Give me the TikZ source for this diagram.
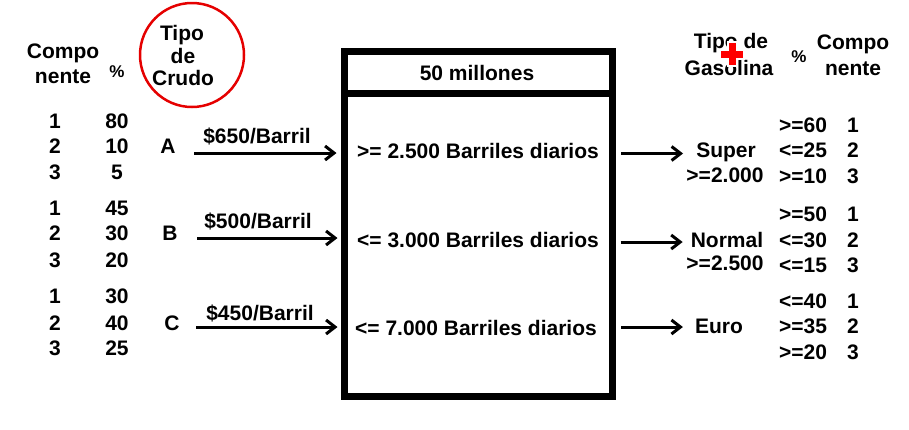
\documentclass[tikz,border=0pt]{standalone}
\usepackage{fontspec}
\setmainfont{Liberation Sans}
\usetikzlibrary{arrows.meta}

\begin{document}
\begin{tikzpicture}[
  x=1pt, y=-1pt,
  txt/.style={font=\bfseries\fontsize{21}{24}\selectfont, inner sep=0pt, anchor=base, text height=15pt, text depth=0pt},
  pct/.style={txt, font=\bfseries\fontsize{17}{19}\selectfont},
  planta/.style={rectangle, draw, line width=7pt, outer sep=0pt, minimum width=268pt, minimum height=345pt},
  flecha/.style={line width=3pt, -{Straight Barb[length=9pt,width=14pt]}},
  marca/.style={draw=red!90!black, line width=2.5pt}]
    \useasboundingbox (0,0) rectangle (909,429);
    % Headers left
    \node[txt] (compoL) at (63,58) {Compo};
    \node[txt] (nenteL) at (63,83) {nente};
    \node[pct] (pctL) at (117,77) {\%};
    \node[txt] (tipoL) at (182,40) {Tipo};
    \node[txt] (deL) at (183,63) {de};
    \node[txt] (crudoL) at (183,85) {Crudo};
    \draw[marca] (192,55) ellipse [x radius=52pt, y radius=52pt];
    % Crude A
    \node[txt] (cA1) at (55,128) {1};  \node[txt] (pA1) at (117,128) {80};
    \node[txt] (cA2) at (55,153) {2};  \node[txt] (pA2) at (117,153) {10};
    \node[txt] (cA3) at (55,179) {3};  \node[txt] (pA3) at (117,179) {5};
    % Crude B
    \node[txt] (cB1) at (55,215) {1};  \node[txt] (pB1) at (117,215) {45};
    \node[txt] (cB2) at (55,240) {2};  \node[txt] (pB2) at (117,240) {30};
    \node[txt] (cB3) at (55,267) {3};  \node[txt] (pB3) at (117,267) {20};
    % Crude C
    \node[txt] (cC1) at (55,303) {1};  \node[txt] (pC1) at (117,303) {30};
    \node[txt] (cC2) at (55,330) {2};  \node[txt] (pC2) at (117,330) {40};
    \node[txt] (cC3) at (55,355) {3};  \node[txt] (pC3) at (117,355) {25};
    \node[txt] (crudoA) at (168,153) {A};
    \node[txt] (crudoB) at (170,240) {B};
    \node[txt] (crudoC) at (172,330) {C};
    % Refinery
    \node (box) [planta] at (478.5,224) {};
    \coordinate (corte) at (478.5,93);
    \draw[line width=7pt] (box.west |- corte) -- (box.east |- corte);
    \node[txt] (costo) at (477,80) {50 millones};
    \node[txt] (bA) at (478,158) {>= 2.500 Barriles diarios};
    \node[txt] (bB) at (478,247) {<= 3.000 Barriles diarios};
    \node[txt] (bC) at (476,335) {<= 7.000 Barriles diarios};
    % Inputs
    \coordinate (inA) at (194,153);
    \coordinate (inB) at (197,238);
    \coordinate (inC) at (196,327);
    \draw[flecha, shorten >=8pt] (inA) -- (inA -| box.west);
    \draw[flecha, shorten >=7pt] (inB) -- (inB -| box.west);
    \draw[flecha, shorten >=7pt] (inC) -- (inC -| box.west);
    \node[txt] (precioA) at (257,143) {\$650/Barril};
    \node[txt] (precioB) at (258,228) {\$500/Barril};
    \node[txt] (precioC) at (260,320) {\$450/Barril};
    % Headers right
    \node[txt] (tipoR) at (731,48) {Tipo de};
    \node[txt] (gasR) at (729,75) {Gasolina};
    \node[pct] (pctR) at (799,62) {\%};
    \node[txt] (compoR) at (853,49) {Compo};
    \node[txt] (nenteR) at (853,75) {nente};
    % Gasolines
    \node[txt] (super) at (726,157) {Super};
    \node[txt] (superQ) at (725,182) {>=2.000};
    \node[txt] (normal) at (727,247) {Normal};
    \node[txt] (normalQ) at (725,270) {>=2.500};
    \node[txt] (euro) at (719,333) {Euro};
    \draw[flecha] ([xshift=8.5pt,yshift=-4pt]box.east |- super.west) -- ([xshift=-13pt,yshift=-4pt]super.west);
    \draw[flecha] ([xshift=8pt,yshift=-2.5pt]box.east |- normal.west) -- ([xshift=-8pt,yshift=-2.5pt]normal.west);
    \draw[flecha] ([xshift=8.5pt,yshift=-1.5pt]box.east |- euro.west) -- ([xshift=-12pt,yshift=-1.5pt]euro.west);
    % Super
    \node[txt] (vS1) at (803,132) {>=60};  \node[txt] (nS1) at (853,132) {1};
    \node[txt] (vS2) at (803,157) {<=25};  \node[txt] (nS2) at (853,157) {2};
    \node[txt] (vS3) at (803,183) {>=10};  \node[txt] (nS3) at (853,183) {3};
    % Normal
    \node[txt] (vN1) at (803,221) {>=50};  \node[txt] (nN1) at (853,221) {1};
    \node[txt] (vN2) at (803,247) {<=30};  \node[txt] (nN2) at (853,247) {2};
    \node[txt] (vN3) at (803,272) {<=15};  \node[txt] (nN3) at (853,272) {3};
    % Euro
    \node[txt] (vE1) at (803,308) {<=40};  \node[txt] (nE1) at (853,308) {1};
    \node[txt] (vE2) at (803,333) {>=35};  \node[txt] (nE2) at (853,333) {2};
    \node[txt] (vE3) at (803,359) {>=20};  \node[txt] (nE3) at (853,359) {3};
    % Cursor
    \fill[white] (719,48.5) rectangle (745,59.5);
    \fill[white] (726.5,41) rectangle (737.5,67);
    \fill[red] (721,50.5) rectangle (743,57.5);
    \fill[red] (728.5,43) rectangle (735.5,65);
\end{tikzpicture}
\end{document}
